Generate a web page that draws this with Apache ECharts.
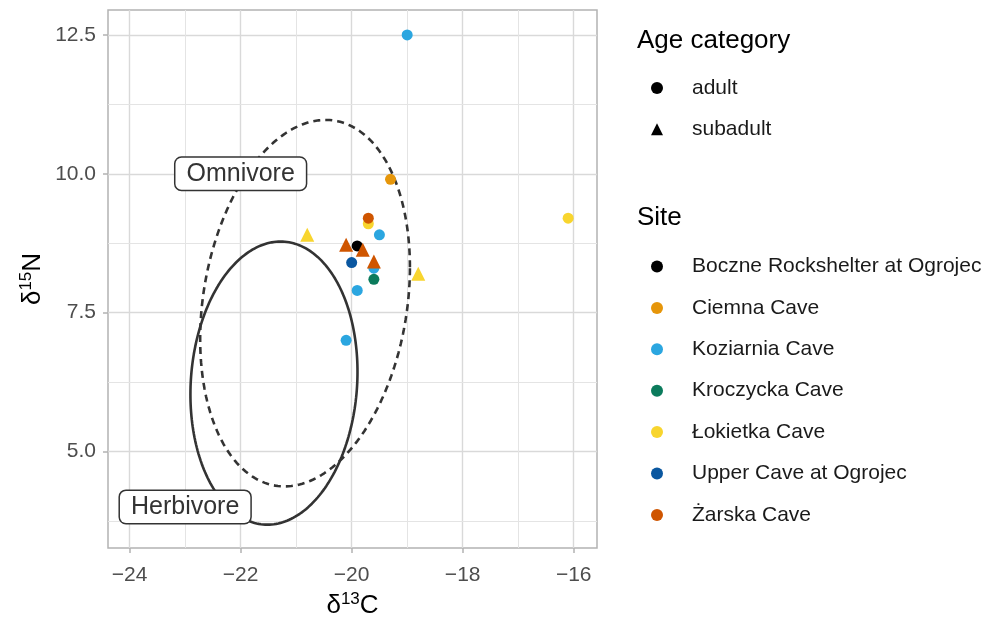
<!DOCTYPE html>
<html>
<head>
<meta charset="utf-8">
<script src="https://cdn.jsdelivr.net/npm/echarts@6/dist/echarts.min.js"></script>
<style>
  html, body { margin: 0; padding: 0; background: #ffffff; }
  #chart { width: 995px; height: 619px; }
</style>
</head>
<body>
<div id="chart"></div>
<script>
// ---- data ----------------------------------------------------------------
const sites = [
  'Boczne Rockshelter at Ogrojec',
  'Ciemna Cave',
  'Koziarnia Cave',
  'Kroczycka Cave',
  'Łokietka Cave',
  'Upper Cave at Ogrojec',
  'Żarska Cave'
];
const ageCategories = ['adult', 'subadult'];

// one entry per sample: site index, age index, δ13C, δ15N
const sampleSite = [0, 1, 2, 2, 2, 2, 2, 3, 4, 4, 4, 4, 5, 6, 6, 6, 6];
const sampleAge  = [0, 0, 0, 0, 0, 0, 0, 0, 0, 0, 1, 1, 0, 0, 1, 1, 1];
const d13C = [-19.9, -19.3, -19.0, -19.5, -19.6, -19.9, -20.1, -19.6, -19.7, -16.1, -20.8, -18.8, -20.0, -19.7, -20.1, -19.8, -19.6];
const d15N = [ 8.70,  9.90, 12.50,  8.90,  8.30,  7.90,  7.00,  8.10,  9.10,  9.20,  8.90,  8.20,  8.40,  9.20,  8.72,  8.63,  8.42];

// reference diet ellipses: centre and covariance-style spread
const dietGroups = ['Omnivore', 'Herbivore'];
const dietCentreX = [-20.84, -21.40];
const dietCentreY = [7.67, 6.23];
const dietVarX = [3.57, 2.265];
const dietVarY = [10.89, 6.50];
const dietCovXY = [1.22, 0.306];
// where each group's label sits
const dietLabelX = [-22, -23];
const dietLabelY = [10, 4];

// axis ticks
const xTicks = [-24, -22, -20, -18, -16];
const yTicks = [5, 7.5, 10, 12.5];
const xMinorTicks = [-23, -21, -19, -17];
const yMinorTicks = [3.75, 6.25, 8.75, 11.25];
const xLimits = [-24.39, -15.58];
const yLimits = [3.26, 12.95];

// ---- styles --------------------------------------------------------------
const FONT = '"Liberation Sans", Arial, Helvetica, sans-serif';
const siteColors = ['#000000', '#E6960A', '#2BA6E0', '#0B7B5C', '#F8D52E', '#0A57A0', '#CF5500'];
const ageSymbols = ['circle', 'triangle'];
const ageSymbolSizes = [11, 14];
const dietLineTypes = [[7, 5], 'solid'];
const INK = '#333333';

// ---- build series --------------------------------------------------------
function ellipsePath(i) {
  const l11 = Math.sqrt(dietVarX[i]);
  const l21 = dietCovXY[i] / l11;
  const l22 = Math.sqrt(dietVarY[i] - l21 * l21);
  const pts = [];
  const n = 240;
  for (let k = 0; k <= n; k++) {
    const t = (2 * Math.PI * k) / n;
    pts.push([
      dietCentreX[i] + l11 * Math.cos(t),
      dietCentreY[i] + l21 * Math.cos(t) + l22 * Math.sin(t)
    ]);
  }
  return pts;
}

const series = [];

// panel grid lines (kept underneath everything else)
const gridLines = [];
xTicks.forEach(v => gridLines.push({ xAxis: v, lineStyle: { color: '#d9d9d9', width: 1.4, type: 'solid' } }));
yTicks.forEach(v => gridLines.push({ yAxis: v, lineStyle: { color: '#d9d9d9', width: 1.4, type: 'solid' } }));
xMinorTicks.forEach(v => gridLines.push({ xAxis: v, lineStyle: { color: '#e4e4e4', width: 1, type: 'solid' } }));
yMinorTicks.forEach(v => gridLines.push({ yAxis: v, lineStyle: { color: '#e4e4e4', width: 1, type: 'solid' } }));
series.push({
  name: 'grid',
  type: 'scatter',
  data: [],
  z: 1,
  silent: true,
  markLine: {
    z: 1,
    silent: true,
    symbol: ['none', 'none'],
    label: { show: false },
    emphasis: { disabled: true },
    data: gridLines
  }
});

// diet ellipses
dietGroups.forEach((g, i) => {
  series.push({
    name: g + ' ellipse',
    type: 'line',
    data: ellipsePath(i),
    showSymbol: false,
    symbol: 'none',
    silent: true,
    z: 10,
    lineStyle: { color: INK, width: 2.6, type: dietLineTypes[i] }
  });
});

// diet labels
series.push({
  name: 'diet labels',
  type: 'scatter',
  z: 12,
  silent: true,
  symbolSize: 1,
  itemStyle: { color: 'rgba(0,0,0,0)', opacity: 1 },
  data: dietGroups.map((g, i) => ({ name: g, value: [dietLabelX[i], dietLabelY[i]] })),
  label: {
    show: true,
    position: 'inside',
    formatter: '{b}',
    fontFamily: FONT,
    fontSize: 25,
    color: INK,
    opacity: 1,
    backgroundColor: '#ffffff',
    borderColor: INK,
    borderWidth: 1.5,
    borderRadius: 6,
    padding: [4, 11, 3, 11]
  }
});

// samples, one series per site
sites.forEach((s, si) => {
  const pts = [];
  for (let k = 0; k < sampleSite.length; k++) {
    if (sampleSite[k] !== si) continue;
    pts.push({
      value: [d13C[k], d15N[k]],
      symbol: ageSymbols[sampleAge[k]],
      symbolSize: ageSymbolSizes[sampleAge[k]]
    });
  }
  series.push({
    name: s,
    type: 'scatter',
    z: 14,
    data: pts,
    itemStyle: { color: siteColors[si], opacity: 1 },
    emphasis: { disabled: true }
  });
});

// empty series that carry the age-category legend keys
ageCategories.forEach((a) => {
  series.push({ name: a, type: 'scatter', data: [], itemStyle: { color: '#000000', opacity: 1 } });
});

const minus = v => String(v).replace('-', '\u2212');

const legendText = {
  fontFamily: FONT,
  fontSize: 21,
  color: '#1a1a1a',
  lineHeight: 12,
  padding: [0, 0, 0, 24]
};

const option = {
  animation: false,
  backgroundColor: '#ffffff',
  textStyle: { fontFamily: FONT },
  title: [
    { text: 'Age category', left: 637, top: 28, padding: 0,
      textStyle: { fontFamily: FONT, fontSize: 26, fontWeight: 'normal', color: '#000000' } },
    { text: 'Site', left: 637, top: 205, padding: 0,
      textStyle: { fontFamily: FONT, fontSize: 26, fontWeight: 'normal', color: '#000000' } }
  ],
  legend: [
    {
      orient: 'vertical', left: 651, top: 77.4, padding: 0,
      itemWidth: 12, itemHeight: 12, itemGap: 20.4,
      selectedMode: false,
      data: ageCategories.map((a, i) => ({ name: a, icon: ageSymbols[i] })),
      textStyle: legendText
    },
    {
      orient: 'vertical', left: 651, top: 256, padding: 0,
      itemWidth: 12, itemHeight: 12, itemGap: 20.4,
      selectedMode: false,
      data: sites.map(s => ({ name: s, icon: 'circle' })),
      textStyle: legendText
    }
  ],
  grid: {
    left: 108, top: 10, right: 398, bottom: 71,
    show: true, borderColor: '#b3b3b3', borderWidth: 1.5,
    backgroundColor: '#ffffff',
    containLabel: false, outerBoundsMode: 'none'
  },
  xAxis: {
    type: 'value',
    min: xLimits[0], max: xLimits[1],
    name: '{d|δ}{s|13}{d|C}',
    nameLocation: 'middle', nameGap: 43,
    nameTextStyle: {
      rich: {
        d: { fontFamily: FONT, fontSize: 26, color: '#000000', lineHeight: 30 },
        s: { fontFamily: FONT, fontSize: 17, color: '#000000', lineHeight: 14, verticalAlign: 'top' }
      }
    },
    axisLine: { show: false },
    splitLine: { show: false },
    axisTick: { show: true, length: 5, lineStyle: { color: '#b3b3b3', width: 1.5 }, customValues: xTicks },
    axisLabel: {
      customValues: xTicks, margin: 17,
      fontFamily: FONT, fontSize: 21, color: '#4d4d4d',
      formatter: v => minus(v)
    }
  },
  yAxis: {
    type: 'value',
    min: yLimits[0], max: yLimits[1],
    name: '{d|δ}{s|15}{d|N}',
    nameLocation: 'middle', nameGap: 60,
    nameTextStyle: {
      rich: {
        d: { fontFamily: FONT, fontSize: 26, color: '#000000', lineHeight: 30 },
        s: { fontFamily: FONT, fontSize: 17, color: '#000000', lineHeight: 14, verticalAlign: 'top' }
      }
    },
    axisLine: { show: false },
    splitLine: { show: false },
    axisTick: { show: true, length: 5, lineStyle: { color: '#b3b3b3', width: 1.5 }, customValues: yTicks },
    axisLabel: {
      customValues: yTicks, margin: 12,
      fontFamily: FONT, fontSize: 21, color: '#4d4d4d',
      formatter: v => Number(v).toFixed(1)
    }
  },
  series: series
};

const chart = echarts.init(document.getElementById('chart'), null, { renderer: 'canvas' });
chart.setOption(option);
</script>
</body>
</html>
